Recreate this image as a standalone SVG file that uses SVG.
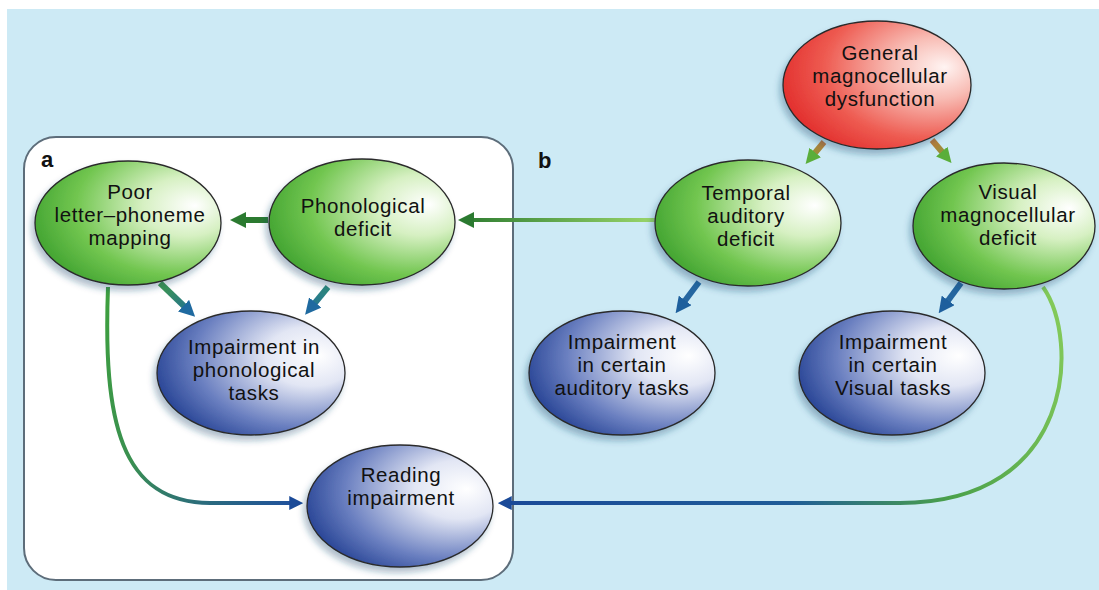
<svg xmlns="http://www.w3.org/2000/svg" width="1099" height="590" viewBox="0 0 1099 590">
<defs>
<style>
.lbl{font-family:"Liberation Sans",Arial,sans-serif;font-size:20.5px;letter-spacing:0.6px;fill:#111;text-anchor:middle}
.pl{font-family:"Liberation Sans",Arial,sans-serif;font-size:22px;font-weight:bold;fill:#111}
.node{stroke:#2a2a2a;stroke-width:1.3;filter:url(#sh)}
.thick{fill:none;stroke-width:6}
.thin{fill:none;stroke-width:4}
</style>
<filter id="sh" x="-20%" y="-20%" width="140%" height="150%">
<feDropShadow dx="-3" dy="5" stdDeviation="3" flood-color="#23466f" flood-opacity="0.35"/>
</filter>
<radialGradient id="gGreen" cx="0.72" cy="0.38" r="0.8" fx="0.86" fy="0.36">
<stop offset="0" stop-color="#ffffff"/>
<stop offset="0.3" stop-color="#d6f0c2"/>
<stop offset="0.68" stop-color="#72c650"/>
<stop offset="1" stop-color="#3a9e2c"/>
</radialGradient>
<radialGradient id="gBlue" cx="0.72" cy="0.38" r="0.8" fx="0.86" fy="0.36">
<stop offset="0" stop-color="#ffffff"/>
<stop offset="0.3" stop-color="#e2e6f4"/>
<stop offset="0.7" stop-color="#6a7fc0"/>
<stop offset="1" stop-color="#1c3a8e"/>
</radialGradient>
<radialGradient id="gRed" cx="0.72" cy="0.38" r="0.8" fx="0.86" fy="0.36">
<stop offset="0" stop-color="#fff4f2"/>
<stop offset="0.3" stop-color="#f8bcb4"/>
<stop offset="0.68" stop-color="#ee5c52"/>
<stop offset="1" stop-color="#e02626"/>
</radialGradient>
<linearGradient id="cTP" gradientUnits="userSpaceOnUse" x1="655" y1="220" x2="458" y2="220">
<stop offset="0" stop-color="#9ad66a"/><stop offset="1" stop-color="#2b7a30"/>
</linearGradient>
<linearGradient id="cPR" gradientUnits="userSpaceOnUse" x1="108" y1="287" x2="300" y2="503">
<stop offset="0" stop-color="#3ea03e"/><stop offset="0.5" stop-color="#3a9050"/><stop offset="1" stop-color="#1f4f9f"/>
</linearGradient>
<linearGradient id="cVR" gradientUnits="userSpaceOnUse" x1="1060" y1="287" x2="500" y2="503">
<stop offset="0" stop-color="#86cc5a"/><stop offset="0.3" stop-color="#4aa04a"/><stop offset="0.55" stop-color="#1f5c98"/><stop offset="1" stop-color="#1a4a98"/>
</linearGradient>
<linearGradient id="cPI" gradientUnits="userSpaceOnUse" x1="160" y1="283" x2="195" y2="317">
<stop offset="0" stop-color="#3f9a4a"/><stop offset="1" stop-color="#1f6aa0"/>
</linearGradient>
<linearGradient id="cHI" gradientUnits="userSpaceOnUse" x1="328" y1="287" x2="305" y2="315">
<stop offset="0" stop-color="#2f8a7a"/><stop offset="1" stop-color="#1f6aa0"/>
</linearGradient>
<linearGradient id="cRT" gradientUnits="userSpaceOnUse" x1="824" y1="142" x2="805" y2="165">
<stop offset="0" stop-color="#c0783a"/><stop offset="1" stop-color="#6aaa3a"/>
</linearGradient>
<linearGradient id="cRV" gradientUnits="userSpaceOnUse" x1="932" y1="140" x2="952" y2="165">
<stop offset="0" stop-color="#c0783a"/><stop offset="1" stop-color="#6aaa3a"/>
</linearGradient>
<marker id="mDG" viewBox="0 0 16 16" refX="2" refY="8" markerWidth="16" markerHeight="16" markerUnits="userSpaceOnUse" orient="auto"><path d="M0,0 L16,8 L0,16 z" fill="#2b7a30"/></marker>
<marker id="mTB" viewBox="0 0 16 16" refX="2" refY="8" markerWidth="16" markerHeight="16" markerUnits="userSpaceOnUse" orient="auto"><path d="M0,0 L16,8 L0,16 z" fill="#1f6aa0"/></marker>
<marker id="mB" viewBox="0 0 16 16" refX="2" refY="8" markerWidth="16" markerHeight="16" markerUnits="userSpaceOnUse" orient="auto"><path d="M0,0 L16,8 L0,16 z" fill="#1d5f9d"/></marker>
<marker id="mG" viewBox="0 0 16 16" refX="2" refY="8" markerWidth="15" markerHeight="15" markerUnits="userSpaceOnUse" orient="auto"><path d="M0,0 L16,8 L0,16 z" fill="#5aae3a"/></marker>
<marker id="mDB" viewBox="0 0 16 16" refX="2" refY="8" markerWidth="14" markerHeight="14" markerUnits="userSpaceOnUse" orient="auto"><path d="M0,0 L16,8 L0,16 z" fill="#1a4a98"/></marker>
</defs>

<rect x="0" y="0" width="1099" height="590" fill="#ffffff"/>
<rect x="7" y="9" width="1092" height="581" fill="#cdeaf5"/>
<rect id="panel-a" x="24" y="137" width="489" height="443" rx="32" ry="32" fill="#ffffff" stroke="#5d6d7a" stroke-width="2"/>
<text class="pl" x="41" y="167">a</text>
<text class="pl" x="538" y="168">b</text>

<g id="connectors">
<path class="thick" d="M268,220 L244,220" stroke="#2b7a30" marker-end="url(#mDG)"/>
<path class="thick" d="M160,283 L185,307" stroke="url(#cPI)" marker-end="url(#mTB)"/>
<path class="thick" d="M328,287 L314,304" stroke="url(#cHI)" marker-end="url(#mTB)"/>
<path class="thick" d="M699,282 L684,302" stroke="#2566a0" marker-end="url(#mB)"/>
<path class="thick" d="M961,283 L947,302" stroke="#2566a0" marker-end="url(#mB)"/>
<path class="thick" d="M824,142 L814,154" stroke="url(#cRT)" marker-end="url(#mG)"/>
<path class="thick" d="M932,140 L943,153" stroke="url(#cRV)" marker-end="url(#mG)"/>
<path class="thin" d="M655,220 L472,220" stroke="url(#cTP)" stroke-width="5" marker-end="url(#mDG)"/>
<path class="thin" d="M108,287 C103,420 120,503 210,503 L291,503" stroke="url(#cPR)" marker-end="url(#mDB)"/>
<path class="thin" d="M1043,287 C1080,340 1075,503 900,503 L510,503" stroke="url(#cVR)" marker-end="url(#mDB)"/>
</g>

<g id="node-general">
<ellipse class="node" cx="877" cy="85" rx="94" ry="64" fill="url(#gRed)"/>
<text class="lbl" x="880" y="60">General</text>
<text class="lbl" x="880" y="83">magnocellular</text>
<text class="lbl" x="880" y="106">dysfunction</text>
</g>
<g id="node-poor">
<ellipse class="node" cx="128" cy="223" rx="93" ry="62" fill="url(#gGreen)"/>
<text class="lbl" x="130" y="199">Poor</text>
<text class="lbl" x="130" y="222">letter–phoneme</text>
<text class="lbl" x="130" y="245">mapping</text>
</g>
<g id="node-phonological">
<ellipse class="node" cx="362" cy="222" rx="93" ry="63" fill="url(#gGreen)"/>
<text class="lbl" x="363" y="213">Phonological</text>
<text class="lbl" x="363" y="236">deficit</text>
</g>
<g id="node-imp-phon">
<ellipse class="node" cx="251" cy="373" rx="94" ry="62" fill="url(#gBlue)"/>
<text class="lbl" x="254" y="354">Impairment in</text>
<text class="lbl" x="254" y="377">phonological</text>
<text class="lbl" x="254" y="400">tasks</text>
</g>
<g id="node-reading">
<ellipse class="node" cx="400" cy="506" rx="93" ry="61" fill="url(#gBlue)"/>
<text class="lbl" x="401" y="482">Reading</text>
<text class="lbl" x="401" y="505">impairment</text>
</g>
<g id="node-temporal">
<ellipse class="node" cx="748" cy="223" rx="93" ry="63" fill="url(#gGreen)"/>
<text class="lbl" x="746" y="200">Temporal</text>
<text class="lbl" x="746" y="223">auditory</text>
<text class="lbl" x="746" y="246">deficit</text>
</g>
<g id="node-visual">
<ellipse class="node" cx="1004" cy="226" rx="91" ry="63" fill="url(#gGreen)"/>
<text class="lbl" x="1008" y="199">Visual</text>
<text class="lbl" x="1008" y="222">magnocellular</text>
<text class="lbl" x="1008" y="245">deficit</text>
</g>
<g id="node-imp-auditory">
<ellipse class="node" cx="622" cy="373" rx="93" ry="62" fill="url(#gBlue)"/>
<text class="lbl" x="622" y="349">Impairment</text>
<text class="lbl" x="622" y="372">in certain</text>
<text class="lbl" x="622" y="395">auditory tasks</text>
</g>
<g id="node-imp-visual">
<ellipse class="node" cx="892" cy="373" rx="93" ry="62" fill="url(#gBlue)"/>
<text class="lbl" x="893" y="349">Impairment</text>
<text class="lbl" x="893" y="372">in certain</text>
<text class="lbl" x="893" y="395">Visual tasks</text>
</g>
</svg>
